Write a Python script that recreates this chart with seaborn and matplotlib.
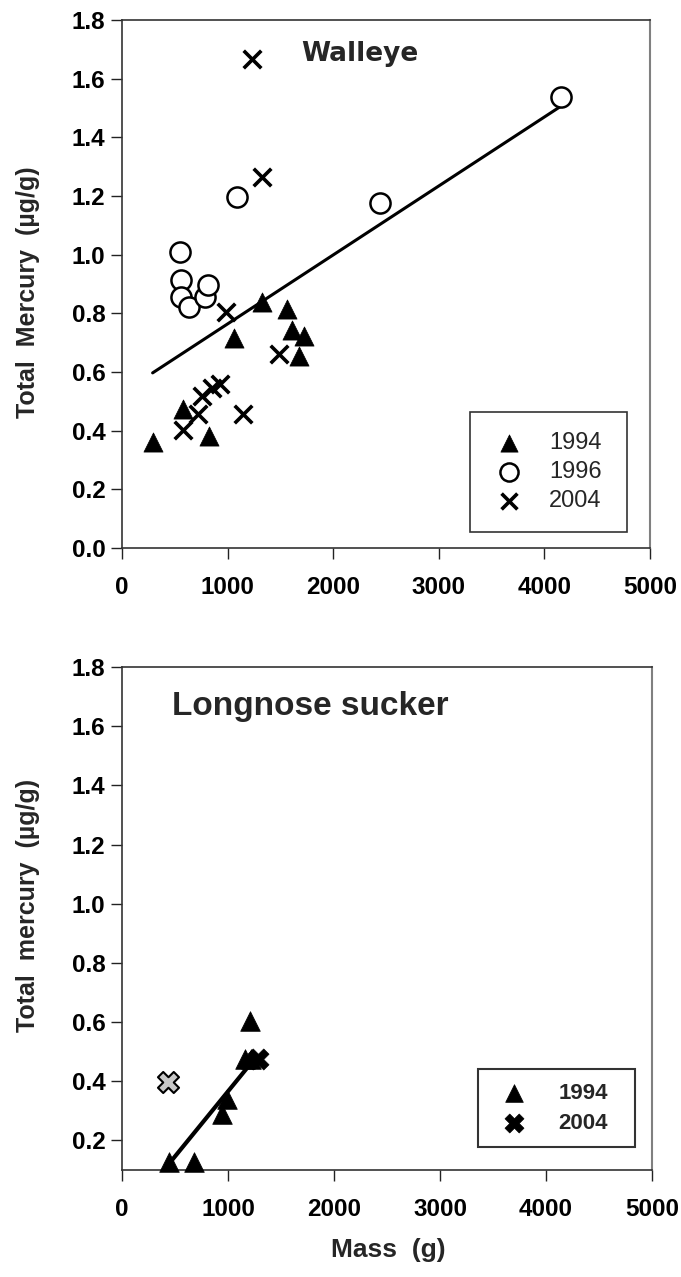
import numpy as np
import pandas as pd
import matplotlib
matplotlib.use("Agg")
import matplotlib.pyplot as plt
import seaborn as sns

# ---------------- data ----------------
# Walleye
w94_mass = [290, 575, 824, 1064, 1323, 1560, 1607, 1679, 1727]
w94_hg = [0.362, 0.473, 0.382, 0.715, 0.840, 0.814, 0.743, 0.655, 0.723]
w96_mass = [549, 559, 559, 634, 786, 817, 1086, 2443, 4157]
w96_hg = [1.010, 0.914, 0.857, 0.820, 0.857, 0.897, 1.198, 1.177, 1.537]
w04_mass = [581, 723, 755, 849, 928, 985, 1149, 1490, 1231, 1323]
w04_hg = [0.402, 0.457, 0.519, 0.544, 0.559, 0.806, 0.457, 0.661, 1.667, 1.264]
w_fit_mass = [290, 4160]
w_fit_hg = [0.597, 1.507]

# Longnose sucker
l94_mass = [447, 677, 945, 992, 1165, 1220, 1203]
l94_hg = [0.128, 0.128, 0.288, 0.339, 0.476, 0.476, 0.605]
l04_mass = [431, 1285]
l04_hg = [0.398, 0.476]
l_fit_mass = [441, 1260]
l_fit_hg = [0.120, 0.480]

x_ticks = [0, 1000, 2000, 3000, 4000, 5000]
y_ticks_top = [0.0, 0.2, 0.4, 0.6, 0.8, 1.0, 1.2, 1.4, 1.6, 1.8]
y_ticks_bot = [0.2, 0.4, 0.6, 0.8, 1.0, 1.2, 1.4, 1.6, 1.8]

# ---------------- style ----------------
sns.set_style("ticks")
plt.rcParams["font.family"] = ["Liberation Sans", "DejaVu Sans"]

W, H = 681, 1277
fig = plt.figure(figsize=(W / 100, H / 100), dpi=100)

def fx(px):
    return px / W

def fy(py):
    return 1 - py / H

ax1 = fig.add_axes([fx(122), fy(548), fx(650) - fx(122), fy(20) - fy(548)])
ax2 = fig.add_axes([fx(122), fy(1170), fx(652) - fx(122), fy(667) - fy(1170)])

def style_axes(ax, yticks, ylim):
    ax.set_xlim(0, 5000)
    ax.set_ylim(*ylim)
    ax.set_xticks(x_ticks)
    ax.set_xticklabels([str(v) for v in x_ticks])
    ax.set_yticks(yticks)
    ax.set_yticklabels([f"{v:.1f}" for v in yticks])
    ax.tick_params(axis="both", direction="out", length=8, width=1.0,
                   colors="#222222", labelcolor="black", labelsize=17.5)
    ax.tick_params(axis="x", pad=12)
    ax.tick_params(axis="y", pad=4)
    for lab in ax.get_xticklabels() + ax.get_yticklabels():
        lab.set_fontweight("bold")
    for s in ["left", "bottom", "top"]:
        ax.spines[s].set_visible(True)
        ax.spines[s].set_color("#333333")
        ax.spines[s].set_linewidth(1.2)
    ax.spines["right"].set_visible(True)
    ax.spines["right"].set_color("#808080")
    ax.spines["right"].set_linewidth(1.5)
    ax.set_xlabel("")
    ax.set_ylabel("")

# ---------------- top panel: Walleye ----------------
df_w94 = pd.DataFrame({"mass": w94_mass, "hg": w94_hg})
df_w96 = pd.DataFrame({"mass": w96_mass, "hg": w96_hg})
df_w04 = pd.DataFrame({"mass": w04_mass, "hg": w04_hg})
df_wfit = pd.DataFrame({"mass": w_fit_mass, "hg": w_fit_hg})

sns.lineplot(data=df_wfit, x="mass", y="hg", ax=ax1, color="black", lw=2.2, zorder=2)
sns.scatterplot(data=df_w94, x="mass", y="hg", ax=ax1, marker="^", s=190,
                color="black", edgecolor="black", linewidth=0.5, label="1994", zorder=3)
sns.scatterplot(data=df_w96, x="mass", y="hg", ax=ax1, marker="o", s=210,
                facecolor="white", edgecolor="black", linewidth=1.8, label="1996", zorder=3)
sns.scatterplot(data=df_w04, x="mass", y="hg", ax=ax1, marker="x", s=160,
                color="black", linewidth=2.6, label="2004", zorder=3)
style_axes(ax1, y_ticks_top, (0, 1.8))
ax1.text(2254, 1.685, "Walleye", fontsize=19, fontweight="bold",
         family=["DejaVu Sans"], ha="center", va="center")
leg1 = ax1.legend(loc="lower left", bbox_to_anchor=(0.659, 0.030, 0.297, 0.233),
                  mode="expand", frameon=True, fancybox=False, fontsize=17,
                  handletextpad=0.9, borderpad=0.85, labelspacing=0.3,
                  markerscale=0.9, borderaxespad=0, handlelength=1.6)
leg1.get_frame().set_edgecolor("black")
leg1.get_frame().set_linewidth(1.2)

fig.text(fx(28), fy(292), "Total  Mercury  (\u00b5g/g)", rotation=90,
         fontsize=18, fontweight="bold", ha="center", va="center")

# ---------------- bottom panel: Longnose sucker ----------------
df_l94 = pd.DataFrame({"mass": l94_mass, "hg": l94_hg})
df_l04a = pd.DataFrame({"mass": l04_mass[:1], "hg": l04_hg[:1]})
df_l04b = pd.DataFrame({"mass": l04_mass[1:], "hg": l04_hg[1:]})
df_lfit = pd.DataFrame({"mass": l_fit_mass, "hg": l_fit_hg})

sns.lineplot(data=df_lfit, x="mass", y="hg", ax=ax2, color="black", lw=3.0, zorder=2)
sns.scatterplot(data=df_l94, x="mass", y="hg", ax=ax2, marker="^", s=200,
                color="black", edgecolor="black", linewidth=0.5, label="1994",
                zorder=3, clip_on=False)
sns.scatterplot(data=df_l04b, x="mass", y="hg", ax=ax2, marker="X", s=230,
                color="black", edgecolor="black", linewidth=0.5, label="2004", zorder=3)
sns.scatterplot(data=df_l04a, x="mass", y="hg", ax=ax2, marker="X", s=230,
                facecolor="#c8c8c8", edgecolor="black", linewidth=1.5, zorder=3)
style_axes(ax2, y_ticks_bot, (0.1, 1.8))
ax2.text(472, 1.668, "Longnose sucker", fontsize=24, fontweight="bold",
         ha="left", va="center")
leg2 = ax2.legend(loc="lower left", bbox_to_anchor=(0.672, 0.046, 0.296, 0.185),
                  mode="expand", frameon=True, fancybox=False, fontsize=16,
                  handletextpad=1.0, borderpad=0.6, labelspacing=0.4,
                  markerscale=0.9, borderaxespad=0, handlelength=2.0)
leg2.get_frame().set_edgecolor("black")
leg2.get_frame().set_linewidth(1.5)
for t in leg2.get_texts():
    t.set_fontweight("bold")

fig.text(fx(28), fy(905), "Total  mercury  (\u00b5g/g)", rotation=90,
         fontsize=18, fontweight="bold", ha="center", va="center")
fig.text(fx(388), fy(1250), "Mass  (g)", fontsize=19, fontweight="bold",
         ha="center", va="center")

fig.savefig("out.png", dpi=100)
